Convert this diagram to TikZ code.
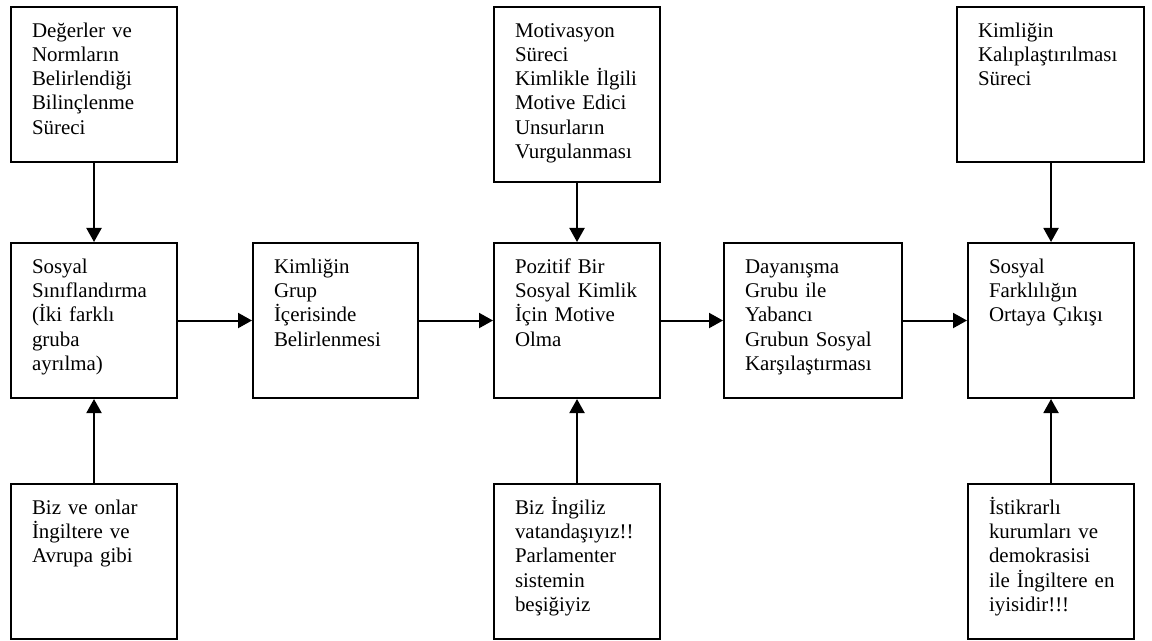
\documentclass[tikz,border=0pt]{standalone}
\usepackage{fontspec}
\setmainfont{Liberation Serif}
\usetikzlibrary{arrows.meta}

\begin{document}
\begin{tikzpicture}[
    font=\fontsize{11.9}{13.75}\selectfont,
    stage/.style 2 args={draw, line width=1.15pt, anchor=north west, align=left,
        inner xsep=0.42cm, inner ysep=0pt, text height=0.61cm,
        text width=#1, text depth=#2},
    flow/.style={-{Triangle[width=0.3cm, length=0.28cm]}, line width=1.15pt}]
\useasboundingbox (0, 0) rectangle (23.04, -12.82);
% top row
\node[stage={2.48cm}{2.49cm}] (topa) at (0.2, -0.12) {Değerler ve\\Normların\\Belirlendiği\\Bilinçlenme\\Süreci};
\node[stage={2.48cm}{2.89cm}] (topb) at (9.86, -0.12) {Motivasyon\\Süreci\\\mbox{Kimlikle İlgili}\\Motive Edici\\Unsurların\\Vurgulanması};
\node[stage={2.90cm}{2.49cm}] (topc) at (19.12, -0.12) {Kimliğin\\\mbox{Kalıplaştırılması}\\Süreci};
% middle row
\node[stage={2.48cm}{2.49cm}] (mida) at (0.2, -4.84) {Sosyal\\\mbox{Sınıflandırma}\\(İki farklı\\gruba\\ayrılma)};
\node[stage={2.46cm}{2.49cm}] (midb) at (5.04, -4.84) {Kimliğin\\Grup\\İçerisinde\\\mbox{Belirlenmesi}};
\node[stage={2.48cm}{2.49cm}] (midc) at (9.86, -4.84) {Pozitif Bir\\\mbox{Sosyal Kimlik}\\İçin Motive\\Olma};
\node[stage={2.72cm}{2.49cm}] (midd) at (14.46, -4.84) {Dayanışma\\Grubu ile\\Yabancı\\\mbox{Grubun Sosyal}\\\mbox{Karşılaştırması}};
\node[stage={2.48cm}{2.49cm}] (mide) at (19.34, -4.84) {Sosyal\\Farklılığın\\\mbox{Ortaya Çıkışı}};
% bottom row
\node[stage={2.48cm}{2.49cm}] (bota) at (0.2, -9.66) {Biz ve onlar\\İngiltere ve\\Avrupa gibi};
\node[stage={2.48cm}{2.49cm}] (botc) at (9.86, -9.66) {Biz İngiliz\\\mbox{vatandaşıyız!!}\\Parlamenter\\sistemin\\beşiğiyiz};
\node[stage={2.48cm}{2.49cm}] (bote) at (19.34, -9.66) {İstikrarlı\\kurumları ve\\demokrasisi\\\mbox{ile İngiltere en}\\iyisidir!!!};
% connectors
\draw[flow] (topa) -- (mida);
\draw[flow] (topb) -- (midc);
\draw[flow] (topc.south -| mide) -- (mide);
\draw[flow] (bota) -- (mida);
\draw[flow] (botc) -- (midc);
\draw[flow] (bote) -- (mide);
\draw[flow] (mida) -- (midb);
\draw[flow] (midb) -- (midc);
\draw[flow] (midc) -- (midd);
\draw[flow] (midd) -- (mide);
\end{tikzpicture}
\end{document}
